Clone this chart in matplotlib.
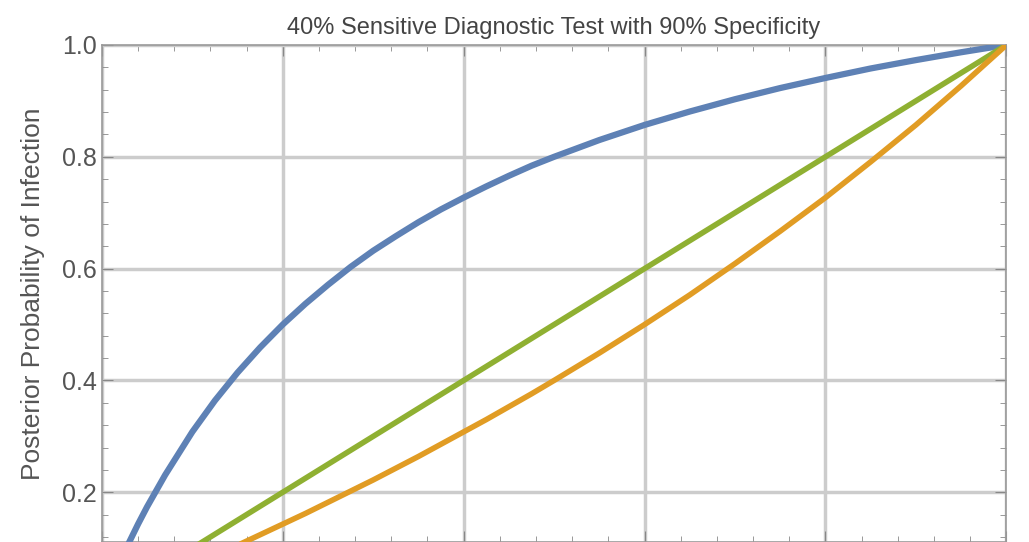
import matplotlib.pyplot as plt
from matplotlib.ticker import MultipleLocator

plt.rcParams['font.family'] = ['Liberation Sans', 'DejaVu Sans']

# prior probability of infection
prior = [0, 0.01, 0.02, 0.03, 0.04, 0.05, 0.07, 0.1, 0.125, 0.15, 0.175, 0.2, 0.225, 0.25,
         0.275, 0.3, 0.325, 0.35, 0.375, 0.4, 0.425, 0.45, 0.475, 0.5,
         0.55, 0.6, 0.65, 0.7, 0.75, 0.8, 0.85, 0.9, 0.95, 1.0]
# posterior after positive test
positive = [0, 0.039, 0.075, 0.110, 0.143, 0.174, 0.231, 0.308, 0.364, 0.414, 0.459, 0.5,
            0.537, 0.571, 0.603, 0.632, 0.658, 0.683, 0.706, 0.727, 0.747, 0.766, 0.784, 0.8,
            0.830, 0.857, 0.881, 0.903, 0.923, 0.941, 0.958, 0.973, 0.987, 1.0]
# posterior after negative test
negative = [0, 0.007, 0.013, 0.020, 0.027, 0.034, 0.048, 0.069, 0.087, 0.105, 0.124, 0.143,
            0.162, 0.182, 0.202, 0.222, 0.243, 0.264, 0.286, 0.308, 0.330, 0.353, 0.376, 0.4,
            0.449, 0.5, 0.553, 0.609, 0.667, 0.727, 0.791, 0.857, 0.927, 1.0]

fig = plt.figure(figsize=(10.29, 5.42), dpi=100)
ax = fig.add_axes([0.099, 0.0, 0.879, 0.917])

ax.plot(prior, positive, color='#5E81B5', lw=4.5, solid_joinstyle='round', zorder=3)
ax.plot(prior, prior, color='#8FB032', lw=4, zorder=3)
ax.plot(prior, negative, color='#E19C24', lw=4, solid_joinstyle='round', zorder=3)

ax.set_xlim(0, 1)
ax.set_ylim(0.111, 1.0)
ax.xaxis.set_major_locator(MultipleLocator(0.2))
ax.xaxis.set_minor_locator(MultipleLocator(0.04))
ax.yaxis.set_major_locator(MultipleLocator(0.2))
ax.yaxis.set_minor_locator(MultipleLocator(0.04))
ax.grid(True, which='major', color='#cccccc', lw=2.5)
ax.tick_params(which='both', direction='in', top=True, right=True, colors='#888888',
               labelcolor='#555555', labelsize=18)
ax.tick_params(which='major', length=8)
ax.tick_params(which='minor', length=4)
ax.tick_params(axis='x', labelbottom=False)
for s in ax.spines.values():
    s.set_color('#999999')
    s.set_linewidth(1.2)

ax.set_ylabel('Posterior Probability of Infection', fontsize=19, color='#555555', labelpad=12)
ax.set_title('40% Sensitive Diagnostic Test with 90% Specificity', fontsize=17,
             color='#444444', pad=8)

fig.savefig('out.png', dpi=100)
